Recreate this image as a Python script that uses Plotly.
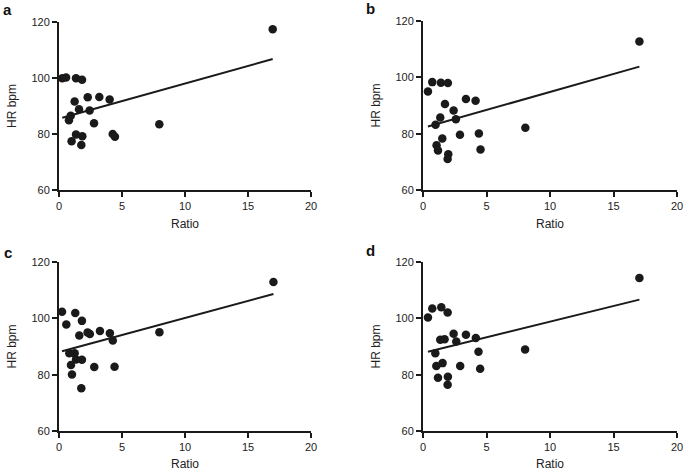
import numpy as np
import plotly.graph_objects as go

# ---- data ----
panel_labels = ["a", "b", "c", "d"]

ratio_a = [0.26, 0.56, 1.35, 1.83, 16.96, 1.24, 2.28, 3.20, 4.02, 1.59, 2.43,
           0.93, 0.79, 2.78, 7.96, 1.35, 1.85, 1.00, 1.77, 4.26, 4.44]
hr_a = [99.9, 100.2, 99.9, 99.4, 117.4, 91.6, 93.1, 93.2, 92.3, 88.8, 88.4,
        86.5, 84.9, 83.8, 83.5, 79.8, 79.2, 77.4, 76.1, 80.0, 79.0]

ratio_b = [0.39, 0.73, 1.41, 1.96, 17.04, 3.38, 4.14, 1.73, 2.41, 1.36, 2.59,
           0.99, 8.06, 2.91, 4.40, 1.52, 1.07, 1.18, 4.53, 1.99, 1.94]
hr_b = [95.0, 98.3, 98.1, 98.0, 112.7, 92.3, 91.7, 90.5, 88.2, 85.7, 85.1,
        83.2, 82.1, 79.6, 80.1, 78.3, 75.9, 74.0, 74.4, 72.7, 71.0]

ratio_c = [0.24, 0.58, 1.29, 1.82, 17.02, 1.61, 2.27, 2.45, 3.25, 4.04, 4.27,
           7.97, 0.82, 1.24, 0.95, 1.35, 1.82, 2.80, 4.41, 1.03, 1.77]
hr_c = [102.3, 97.8, 101.9, 99.1, 112.9, 93.9, 95.0, 94.4, 95.5, 94.7, 92.1,
        95.1, 87.6, 87.6, 83.4, 85.4, 85.3, 82.7, 82.8, 80.1, 75.2]

ratio_d = [0.39, 0.73, 1.44, 1.94, 17.04, 1.36, 1.70, 2.41, 2.62, 3.38, 4.16,
           0.97, 4.37, 8.04, 1.05, 1.54, 2.93, 4.50, 1.18, 1.96, 1.94]
hr_d = [100.3, 103.5, 103.9, 102.1, 114.3, 92.4, 92.6, 94.5, 91.8, 94.2, 93.0,
        87.6, 88.1, 88.9, 83.1, 84.1, 83.1, 82.1, 78.9, 79.3, 76.4]

x_ticks = [0, 5, 10, 15, 20]
y_ticks = [60, 80, 100, 120]
x_title = "Ratio"
y_title = "HR bpm"

panels = [(ratio_a, hr_a), (ratio_b, hr_b), (ratio_c, hr_c), (ratio_d, hr_d)]

# ---- layout geometry ----
W, H = 685, 471
x_domains = [[59 / W, 311 / W], [423 / W, 677 / W], [59 / W, 311 / W], [423 / W, 677 / W]]
y_domains = [[1 - 190 / H, 1 - 22 / H], [1 - 190 / H, 1 - 21 / H],
             [1 - 431 / H, 1 - 262 / H], [1 - 431 / H, 1 - 262 / H]]
letter_pos = [(1, 10), (364, 9), (2, 252), (364, 250)]

FONT = "Liberation Sans, Arial, sans-serif"
INK = "#1a1a1a"

fig = go.Figure()
layout = dict(
    width=W, height=H,
    margin=dict(l=0, r=0, t=0, b=0, autoexpand=False),
    paper_bgcolor="white", plot_bgcolor="white",
    showlegend=False,
    font=dict(family=FONT, size=11, color="#222222"),
    annotations=[],
)

for i, (xs, ys) in enumerate(panels):
    n = "" if i == 0 else str(i + 1)
    xa, ya = "x" + n, "y" + n
    fig.add_trace(go.Scatter(
        x=xs, y=ys, mode="markers", xaxis=xa, yaxis=ya,
        marker=dict(size=8.5, color=INK, line=dict(width=0)),
        cliponaxis=False,
    ))
    slope, intercept = np.polyfit(xs, ys, 1)
    xfit = [min(xs), max(xs)]
    yfit = [intercept + slope * v for v in xfit]
    fig.add_trace(go.Scatter(
        x=xfit, y=yfit, mode="lines", xaxis=xa, yaxis=ya,
        line=dict(color=INK, width=2),
    ))
    common = dict(showgrid=False, zeroline=False, showline=True, linecolor=INK,
                  linewidth=2, ticks="outside", ticklen=5, tickwidth=1.5,
                  tickcolor=INK, automargin=False,
                  tickfont=dict(family=FONT, size=11, color="#222222"))
    layout["xaxis" + n] = dict(
        domain=x_domains[i], anchor=ya, range=[0, 20], tickvals=x_ticks,
        title=dict(text=x_title, standoff=8, font=dict(family=FONT, size=12, color="#222222")),
        **common)
    layout["yaxis" + n] = dict(
        domain=y_domains[i], anchor=xa, range=[60, 120], tickvals=y_ticks,
        title=dict(text=y_title, standoff=12, font=dict(family=FONT, size=12, color="#222222")),
        **common)
    lx, ly = letter_pos[i]
    layout["annotations"].append(dict(
        text="<b>" + panel_labels[i] + "</b>", x=lx / W, y=1 - ly / H,
        xref="paper", yref="paper", xanchor="left", yanchor="middle",
        showarrow=False, font=dict(family=FONT, size=15, color="#111111")))

fig.update_layout(**layout)
fig.write_html(
    "out.html",
    config={"displayModeBar": False},
    post_script="document.body.style.margin='0';document.body.style.padding='0';"
                "document.body.style.overflow='hidden';",
)
